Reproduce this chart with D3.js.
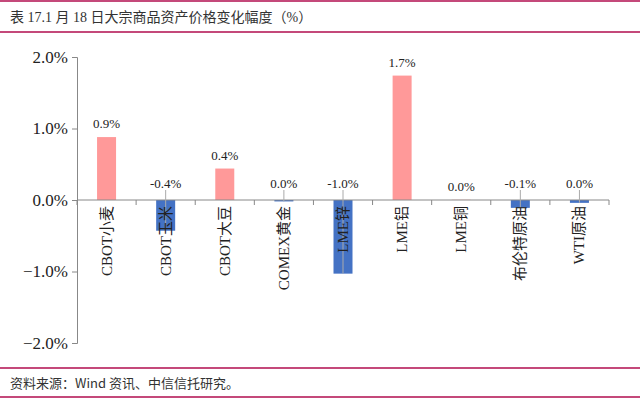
<!DOCTYPE html>
<html><head><meta charset="utf-8">
<script src="https://cdn.jsdelivr.net/npm/d3@7"></script>
<style>body{margin:0;background:#fff;}svg{display:block;}</style>
</head><body>
<script>
const categories = ["CBOT小麦","CBOT玉米","CBOT大豆","COMEX黄金","LME锌","LME铝","LME铜","布伦特原油","WTI原油"];
const values = [0.88, -0.43, 0.44, -0.02, -1.03, 1.74, 0.003, -0.11, -0.04];
const labels = ["0.9%","-0.4%","0.4%","0.0%","-1.0%","1.7%","0.0%","-0.1%","0.0%"];
const yTicks = [-2, -1, 0, 1, 2];
const title = "表 17.1 月 18 日大宗商品资产价格变化幅度（%）";
const source = "资料来源：Wind 资讯、中信信托研究。";

const W = 640, H = 401;
const svg = d3.select("body").append("svg").attr("width", W).attr("height", H);
const serif = "'Liberation Serif','Times New Roman','Noto Sans CJK SC',serif";
const border = "#C4497A";

svg.append("rect").attr("x",0).attr("y",0).attr("width",W).attr("height",2).attr("fill",border);
svg.append("rect").attr("x",0).attr("y",31).attr("width",W).attr("height",2).attr("fill",border);
svg.append("rect").attr("x",0).attr("y",367).attr("width",W).attr("height",2).attr("fill",border);
svg.append("rect").attr("x",0).attr("y",396).attr("width",W).attr("height",2).attr("fill",border);

svg.append("text").attr("x",10).attr("y",22).attr("font-family",serif).attr("font-size",14)
  .attr("fill","#333").text(title);
svg.append("text").attr("x",10).attr("y",388).attr("font-family","'Noto Sans CJK SC',serif").attr("font-size",13)
  .attr("fill","#333").text(source);

const x0 = 77, x1 = 609;
const x = d3.scaleBand().domain(categories).range([x0, x1]).paddingInner(0).paddingOuter(0);
const y = d3.scaleLinear().domain([-2, 2]).range([343, 57]);
const barW = 19;

// y axis
const yAxis = svg.append("g").attr("transform", `translate(${x0},0)`)
  .call(d3.axisLeft(y).tickValues(yTicks).tickSize(5).tickFormat(d => d3.format(".1f")(d) + "%"));
yAxis.select(".domain").attr("stroke","#888");
yAxis.selectAll(".tick line").attr("stroke","#888");
yAxis.selectAll(".tick text").attr("font-family",serif).attr("font-size",17).attr("fill","#222").attr("x",-9);

// bars
svg.selectAll("rect.bar").data(values).enter().append("rect").attr("class","bar")
  .attr("x",(d,i)=>x(categories[i]) + x.bandwidth()/2 - barW/2)
  .attr("width",barW)
  .attr("y",d=>y(Math.max(0,d)))
  .attr("height",d=>Math.abs(y(d)-y(0)))
  .attr("fill",d=>d>=0?"#FF9999":"#4472C4");

// x axis
const xAxisG = svg.append("g").attr("transform",`translate(0,${y(0)})`);
xAxisG.append("line").attr("x1",x0).attr("x2",x1).attr("stroke","#888");
d3.range(categories.length+1).forEach(k=>{
  const xx = x0 + k*x.step();
  xAxisG.append("line").attr("x1",xx).attr("x2",xx).attr("y1",0).attr("y2",5).attr("stroke","#888");
});

// leader lines for negative values
svg.selectAll("line.lead").data(values).enter().filter(d=>d<0).append("line")
  .attr("x1",(d,i)=>{const idx=values.indexOf(d);return x(categories[idx])+x.bandwidth()/2;})
  .attr("x2",(d,i)=>{const idx=values.indexOf(d);return x(categories[idx])+x.bandwidth()/2;})
  .attr("y1",y(0)-10).attr("y2",d=>y(d)).attr("stroke","#aaa").attr("stroke-width",1);

// value labels
svg.selectAll("text.val").data(values).enter().append("text").attr("class","val")
  .attr("x",(d,i)=>x(categories[i]) + x.bandwidth()/2)
  .attr("y",d=> d>=0 ? y(d)-9 : y(0)-12)
  .attr("text-anchor","middle").attr("font-family",serif).attr("font-size",13).attr("fill","#222")
  .text((d,i)=>labels[i]);

// category labels
svg.selectAll("text.cat").data(categories).enter().append("text").attr("class","cat")
  .attr("transform",d=>`translate(${x(d)+x.bandwidth()/2+5},${y(0)+6}) rotate(-90)`)
  .attr("text-anchor","end").attr("font-family",serif).attr("font-size",15).attr("fill","#222")
  .text(d=>d);
</script>
</body></html>
